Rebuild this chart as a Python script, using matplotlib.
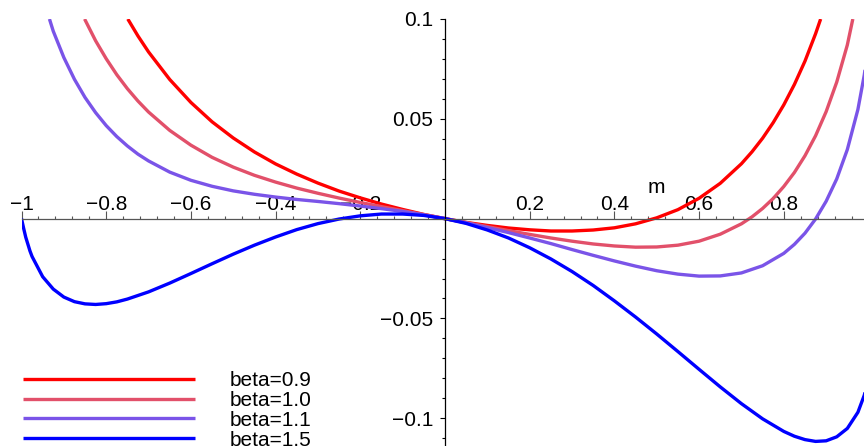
import matplotlib
matplotlib.use('Agg')
import matplotlib.pyplot as plt
from matplotlib.ticker import FixedLocator, FixedFormatter, MultipleLocator

plt.rcParams['font.family'] = ['Liberation Sans', 'DejaVu Sans']

# beta = 0.9
m_09 = [-0.749, -0.725, -0.7, -0.65, -0.6, -0.55, -0.5, -0.45, -0.4, -0.35, -0.3, -0.25,
        -0.2, -0.15, -0.1, -0.05, 0, 0.05, 0.1, 0.15, 0.2, 0.25, 0.3, 0.35, 0.4, 0.45,
        0.5, 0.55, 0.6, 0.65, 0.7, 0.725, 0.75, 0.775, 0.8, 0.825, 0.85, 0.875, 0.887]
f_09 = [0.1, 0.0915, 0.0835, 0.0697, 0.0582, 0.0485, 0.0404, 0.0334, 0.0274, 0.0223, 0.0178,
        0.0138, 0.0104, 0.0073, 0.0046, 0.0021, 0, -0.0019, -0.0034, -0.0047, -0.0056, -0.0062,
        -0.0062, -0.0057, -0.0046, -0.0026, 0.0004, 0.0045, 0.0102, 0.0177, 0.0275, 0.0335,
        0.0403, 0.0481, 0.0570, 0.0672, 0.0789, 0.0926, 0.1]

# beta = 1.0
m_10 = [-0.851, -0.825, -0.8, -0.775, -0.75, -0.725, -0.7, -0.65, -0.6, -0.55, -0.5, -0.45,
        -0.4, -0.35, -0.3, -0.25, -0.2, -0.15, -0.1, -0.05, 0, 0.05, 0.1, 0.15, 0.2, 0.25,
        0.3, 0.35, 0.4, 0.45, 0.5, 0.55, 0.6, 0.65, 0.7, 0.725, 0.75, 0.775, 0.8, 0.825,
        0.85, 0.875, 0.9, 0.925, 0.95, 0.963]
f_10 = [0.1, 0.0891, 0.0801, 0.0721, 0.0651, 0.0589, 0.0534, 0.0442, 0.0368, 0.0307, 0.0258,
        0.0217, 0.0183, 0.0153, 0.0127, 0.0103, 0.0081, 0.0060, 0.0040, 0.0020, 0, -0.0020,
        -0.0040, -0.0060, -0.0079, -0.0097, -0.0113, -0.0127, -0.0137, -0.0143, -0.0142,
        -0.0133, -0.0113, -0.0078, -0.0026, 0.0009, 0.0051, 0.0101, 0.0161, 0.0231, 0.0315,
        0.0415, 0.0536, 0.0684, 0.0870, 0.1]

# beta = 1.1
m_11 = [-0.934, -0.925, -0.9, -0.875, -0.85, -0.825, -0.8, -0.775, -0.75, -0.725, -0.7, -0.65,
        -0.6, -0.55, -0.5, -0.45, -0.4, -0.35, -0.3, -0.25, -0.2, -0.15, -0.1, -0.05, 0, 0.05,
        0.1, 0.15, 0.2, 0.25, 0.3, 0.35, 0.4, 0.45, 0.5, 0.55, 0.6, 0.65, 0.7, 0.75, 0.8,
        0.825, 0.85, 0.875, 0.9, 0.925, 0.95, 0.975, 0.99, 0.995]
f_11 = [0.1, 0.0939, 0.0807, 0.0698, 0.0607, 0.0531, 0.0466, 0.0411, 0.0364, 0.0323, 0.0289,
        0.0233, 0.0192, 0.0162, 0.0139, 0.0122, 0.0108, 0.0096, 0.0086, 0.0075, 0.0063, 0.0050,
        0.0036, 0.0019, 0, -0.0021, -0.0045, -0.0070, -0.0097, -0.0125, -0.0155, -0.0184,
        -0.0212, -0.0238, -0.0261, -0.0278, -0.0288, -0.0287, -0.0272, -0.0236, -0.0174,
        -0.0129, -0.0073, -0.0002, 0.0087, 0.0199, 0.0346, 0.0547, 0.0719, 0.0794]

# beta = 1.5
m_15 = [-1, -0.995, -0.99, -0.98, -0.975, -0.95, -0.925, -0.9, -0.875, -0.85, -0.825, -0.8,
        -0.775, -0.75, -0.7, -0.65, -0.6, -0.55, -0.5, -0.45, -0.4, -0.35, -0.3, -0.25, -0.2,
        -0.15, -0.1, -0.05, 0, 0.05, 0.1, 0.15, 0.2, 0.25, 0.3, 0.35, 0.4, 0.45, 0.5, 0.55,
        0.6, 0.65, 0.7, 0.75, 0.8, 0.825, 0.85, 0.875, 0.9, 0.925, 0.95, 0.975, 0.99, 0.995]
f_15 = [0, -0.0048, -0.0093, -0.0162, -0.0190, -0.0291, -0.0353, -0.0393, -0.0416, -0.0427,
        -0.0430, -0.0426, -0.0417, -0.0403, -0.0367, -0.0323, -0.0275, -0.0226, -0.0178,
        -0.0133, -0.0092, -0.0055, -0.0025, -0.0002, 0.0014, 0.0023, 0.0023, 0.0016, 0,
        -0.0024, -0.0057, -0.0097, -0.0146, -0.0202, -0.0265, -0.0335, -0.0412, -0.0493,
        -0.0578, -0.0666, -0.0755, -0.0843, -0.0927, -0.1003, -0.1066, -0.1090, -0.1107,
        -0.1116, -0.1113, -0.1093, -0.1051, -0.0970, -0.0885, -0.0844]

labels = ['beta=0.9', 'beta=1.0', 'beta=1.1', 'beta=1.5']
colors = ['#ff0000', '#e2506a', '#7a54e8', '#0000ff']

xticks = [-1, -0.8, -0.6, -0.4, -0.2, 0.2, 0.4, 0.6, 0.8]
xticklabels = ['\u22121', '\u22120.8', '\u22120.6', '\u22120.4', '\u22120.2', '0.2', '0.4', '0.6', '0.8']
yticks = [-0.1, -0.05, 0.05, 0.1]
yticklabels = ['\u22120.1', '\u22120.05', '0.05', '0.1']

fig = plt.figure(figsize=(8.64, 4.46), dpi=100)
ax = fig.add_axes([21.5 / 864, 0, 847 / 864, 427 / 446])
ax.set_xlim(-1, 1)
ax.set_ylim(-0.1139, 0.1)

curves = [(m_09, f_09), (m_10, f_10), (m_11, f_11), (m_15, f_15)]
for (mm, ff), lab, c in zip(curves, labels, colors):
    ax.plot(mm, ff, color=c, linewidth=2.4, label=lab, solid_capstyle='butt')

# axes through the origin, Maple style
ax.spines['top'].set_position(('data', 0))
ax.spines['left'].set_position(('data', 0))
ax.spines['bottom'].set_visible(False)
ax.spines['right'].set_visible(False)
ax.spines['top'].set_color('#555555')
ax.spines['left'].set_color('black')
ax.spines['top'].set_linewidth(0.9)
ax.spines['left'].set_linewidth(0.9)

ax.xaxis.set_ticks_position('top')
ax.yaxis.set_ticks_position('left')
ax.xaxis.set_major_locator(FixedLocator(xticks))
ax.xaxis.set_major_formatter(FixedFormatter(xticklabels))
ax.xaxis.set_minor_locator(MultipleLocator(0.04))
ax.yaxis.set_major_locator(FixedLocator(yticks))
ax.yaxis.set_major_formatter(FixedFormatter(yticklabels))
ax.yaxis.set_minor_locator(MultipleLocator(0.01))

ax.tick_params(axis='x', which='major', direction='out', length=6, width=0.8,
               color='#555555', pad=-2.5, labelsize=15)
ax.tick_params(axis='x', which='minor', direction='out', length=2.4, width=0.8, color='#555555')
ax.tick_params(axis='y', which='major', direction='out', length=3.6, width=0.8, pad=5, labelsize=15)
ax.tick_params(axis='y', which='minor', direction='out', length=2.4, width=0.8)

ax.text(0.5, 0.0158, 'm', ha='center', va='center', fontsize=15)

ax.legend(loc='upper left', bbox_to_anchor=(23 / 864, (446 - 371) / 446),
          bbox_transform=fig.transFigure, frameon=False, fontsize=15,
          handlelength=8.26, handletextpad=1.68, labelspacing=0.04,
          borderpad=0, borderaxespad=0)

fig.savefig('out.png', dpi=100)
